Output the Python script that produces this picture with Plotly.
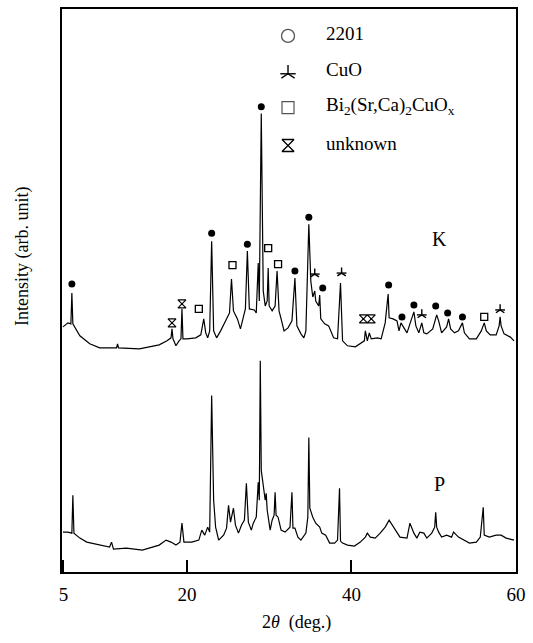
import plotly.graph_objects as go

# ---- XRD pattern of sample K (upper trace) ----
K_two_theta = [4.94, 5.54, 5.90, 6.02, 6.14, 6.51, 6.99, 8.19, 9.40, 11.45, 11.57, 11.69,
               14.22, 16.63, 17.59, 18.07, 18.19, 18.31, 18.67, 19.04, 19.28, 19.40, 19.52,
               20.00, 21.08, 21.69, 22.05, 22.29, 22.53, 22.77, 23.01, 23.25, 23.61, 24.10,
               24.70, 25.18, 25.42, 25.66, 26.14, 26.51, 26.75, 27.11, 27.35, 27.59, 28.19,
               28.43, 28.67, 28.80, 29.04, 29.28, 29.52, 29.76, 29.88, 30.00, 30.36, 30.72,
               30.96, 31.20, 31.45, 31.81, 32.29, 32.77, 33.13, 33.37, 33.86, 34.22, 34.46,
               34.82, 35.06, 35.30, 35.54, 35.66, 36.02, 36.14, 36.27, 36.75, 37.23, 37.83,
               38.31, 38.67, 38.92, 39.52, 40.48, 41.08, 41.57, 41.69, 41.93, 42.17, 42.41,
               43.13, 43.61, 44.10, 44.46, 44.58, 45.06, 45.54, 45.78, 46.02, 46.27, 46.75,
               47.23, 47.59, 47.83, 48.19, 48.55, 48.80, 49.16, 49.88, 50.36, 50.60, 50.96,
               51.57, 51.81, 52.05, 52.53, 53.01, 53.49, 53.73, 54.34, 55.18, 55.78, 56.14,
               56.39, 56.87, 57.59, 57.95, 58.07, 58.19, 58.55, 59.28, 59.76]
K_intensity = [246, 250, 249, 280, 249, 244, 237, 229, 225, 225, 229, 225,
               224, 228, 232, 235, 244, 234, 227, 232, 234, 264, 234,
               234, 235, 238, 254, 240, 235, 242, 332, 242, 235, 242,
               252, 260, 294, 262, 254, 244, 252, 264, 322, 264, 263,
               260, 310, 272, 460, 282, 267, 272, 305, 267, 262, 267,
               302, 262, 254, 242, 245, 252, 295, 247, 239, 235, 242,
               349, 292, 276, 282, 272, 267, 278, 254, 249, 247, 235,
               234, 290, 232, 227, 226, 229, 232, 242, 232, 240, 234,
               235, 234, 250, 279, 255, 254, 252, 242, 250, 247, 240,
               252, 261, 247, 240, 250, 240, 239, 244, 258, 252, 240,
               246, 254, 244, 240, 242, 250, 240, 234, 234, 242, 250,
               242, 238, 238, 247, 256, 247, 239, 236, 232]

# ---- XRD pattern of sample P (lower trace) ----
P_two_theta = [4.94, 5.54, 6.02, 6.14, 6.27, 6.99, 7.83, 9.40, 10.60, 10.84, 11.08, 12.65,
               14.58, 16.63, 17.47, 18.07, 18.67, 19.16, 19.40, 19.64, 20.60, 21.45, 21.81,
               22.17, 22.53, 22.77, 23.01, 23.25, 23.49, 23.86, 24.46, 24.82, 25.06, 25.30,
               25.66, 25.90, 26.27, 26.63, 26.99, 27.23, 27.47, 27.83, 28.07, 28.43, 28.67,
               28.80, 28.92, 29.04, 29.28, 29.52, 29.64, 29.76, 30.12, 30.36, 30.60, 30.72,
               30.84, 31.08, 31.45, 31.93, 32.53, 32.77, 32.89, 33.13, 33.49, 33.86, 34.46,
               34.70, 34.82, 34.94, 35.30, 35.66, 36.14, 36.39, 36.87, 37.35, 37.95, 38.31,
               38.55, 38.67, 38.92, 39.52, 40.36, 41.08, 41.69, 41.93, 42.29, 42.89, 43.49,
               44.10, 44.58, 45.18, 45.90, 46.75, 47.11, 47.59, 47.95, 48.31, 48.80, 49.16,
               49.76, 50.12, 50.24, 50.36, 50.60, 50.96, 51.57, 52.17, 52.41, 53.01, 53.61,
               54.34, 55.18, 55.66, 56.02, 56.14, 56.75, 57.59, 58.19, 58.80, 59.76]
P_intensity = [40, 40, 39, 77, 39, 34, 30, 27, 25, 30, 23, 24,
               22, 27, 32, 30, 27, 30, 49, 30, 30, 32, 42,
               37, 45, 40, 177, 72, 45, 32, 37, 44, 67, 50,
               64, 47, 39, 47, 52, 89, 50, 42, 49, 55, 90,
               72, 212, 102, 84, 72, 79, 62, 42, 52, 57, 80,
               57, 55, 42, 40, 45, 80, 44, 44, 35, 32, 39,
               55, 135, 64, 55, 49, 45, 39, 37, 29, 29, 32,
               84, 31, 29, 27, 26, 30, 35, 39, 35, 34, 39,
               45, 52, 44, 35, 34, 49, 39, 34, 40, 39, 34,
               39, 45, 60, 45, 40, 35, 37, 35, 40, 35, 32,
               29, 30, 35, 65, 37, 35, 37, 37, 34, 32]

# ---- phase identification marks on pattern K ----
phase_2201_theta = [6.02, 23.01, 27.35, 29.04, 33.13, 34.82, 36.51, 44.52, 46.14, 47.59, 50.24, 51.69, 53.49]
phase_2201_int = [289, 340, 329, 467, 302, 356, 285, 288, 256, 268, 267, 260, 256]
cuo_theta = [35.54, 38.80, 48.55, 58.07]
cuo_int = [299, 300, 258, 263]
bi_phase_theta = [21.45, 25.54, 29.88, 31.08, 56.14]
bi_phase_int = [264, 308, 325, 309, 256]
unknown_theta = [18.19, 19.40, 41.45, 42.41]
unknown_int = [250, 269, 254, 254]

# ---- key ----
key_labels = ["2201", "CuO", "Bi<sub>2</sub>(Sr,Ca)<sub>2</sub>CuO<sub>x</sub>", "unknown"]
key_theta = 32.29
key_label_theta = 36.63
key_int = [538, 500, 466, 428]
key_label_int = [540, 504, 468, 430]

SERIF = "Liberation Serif"
INK = "black"
GREY = "#555555"


def marks(x, y, symbol, size, color=INK, width=1.3):
    """Scatter of open/filled symbols, all drawn in the given ink."""
    return go.Scatter(x=x, y=y, mode="markers", hoverinfo="skip",
                      marker=dict(symbol=symbol, size=size, color=color,
                                  line=dict(color=color, width=width)))


fig = go.Figure()

for tt, ii in [(K_two_theta, K_intensity), (P_two_theta, P_intensity)]:
    fig.add_trace(go.Scatter(x=tt, y=ii, mode="lines",
                             line=dict(color=INK, width=1.2), hoverinfo="skip"))

# phase marks above the peaks
fig.add_trace(marks(phase_2201_theta, phase_2201_int, "circle", 7, width=0))
for sym in ["y-up-open", "line-ew-open"]:
    fig.add_trace(marks(cuo_theta, cuo_int, sym, 7, width=1.4))
fig.add_trace(marks(bi_phase_theta, bi_phase_int, "square-open", 7))
fig.add_trace(marks(unknown_theta, unknown_int, "hourglass-open", 8, width=1.2))

# key symbols
fig.add_trace(marks([key_theta], [key_int[0]], "circle-open", 13, color=GREY))
for sym in ["y-up-open", "line-ew-open"]:
    fig.add_trace(marks([key_theta], [key_int[1]], sym, 11, width=1.4))
fig.add_trace(marks([key_theta], [key_int[2]], "square-open", 12, color=GREY, width=1.2))
fig.add_trace(marks([key_theta], [key_int[3]], "hourglass-open", 12))

for lab, yy in zip(key_labels, key_label_int):
    fig.add_annotation(x=key_label_theta, y=yy, text=lab, showarrow=False,
                       xanchor="left", yanchor="middle",
                       font=dict(family=SERIF, size=19, color=INK))

# sample labels
fig.add_annotation(x=50.7, y=334, text="K", showarrow=False,
                   font=dict(family=SERIF, size=20, color=INK))
fig.add_annotation(x=50.7, y=88, text="P", showarrow=False,
                   font=dict(family=SERIF, size=20, color=INK))

# axis titles
fig.add_annotation(xref="paper", yref="paper", x=0.5175, y=-0.09,
                   text="2<i>θ</i>  (deg.)", showarrow=False,
                   xanchor="center", yanchor="middle",
                   font=dict(family=SERIF, size=18, color=INK))
fig.add_annotation(xref="paper", yref="paper", x=-0.0855, y=0.56,
                   text="Intensity (arb. unit)", showarrow=False, textangle=-90,
                   xanchor="center", yanchor="middle",
                   font=dict(family=SERIF, size=18, color=INK))

fig.update_layout(
    width=533, height=643,
    margin=dict(l=62, r=15, t=7, b=71),
    paper_bgcolor="white", plot_bgcolor="white",
    showlegend=False,
    font=dict(family=SERIF, size=18, color=INK),
)
fig.update_xaxes(range=[4.82, 60.0], tickvals=[5, 20, 40, 60],
                 ticktext=["5", "20", "40", "60"],
                 ticks="inside", ticklen=12, tickwidth=1.5, tickcolor=INK,
                 showline=True, linecolor=INK, linewidth=2, mirror=True,
                 showgrid=False, zeroline=False, ticklabelstandoff=4,
                 tickfont=dict(family=SERIF, size=19, color=INK))
fig.update_yaxes(range=[0, 565], showticklabels=False, ticks="",
                 showline=True, linecolor=INK, linewidth=2, mirror=True,
                 showgrid=False, zeroline=False)

fig.write_html("out.html")
